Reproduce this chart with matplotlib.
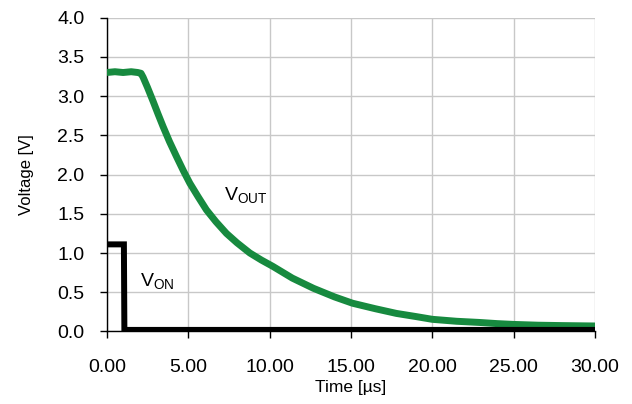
import matplotlib
matplotlib.use("Agg")
import matplotlib.pyplot as plt

plt.rcParams['font.family'] = ['Liberation Sans', 'DejaVu Sans']

# V_OUT readings (time in µs, voltage in V)
t_out = [0.0, 0.5, 1.0, 1.5, 1.9, 2.1, 2.23, 2.5, 2.85, 3.15, 3.46, 3.85, 4.28,
         4.7, 5.1, 5.6, 6.12, 6.7, 7.35, 8.0, 8.79, 9.5, 10.2, 11.4, 12.7,
         14.0, 15.1, 16.5, 17.8, 19.0, 20.0, 21.5, 22.9, 24.0, 25.0, 26.5,
         28.0, 30.0]
v_out = [3.30, 3.31, 3.30, 3.31, 3.30, 3.29, 3.24, 3.11, 2.93, 2.77, 2.61, 2.42,
         2.23, 2.05, 1.89, 1.72, 1.55, 1.40, 1.25, 1.13, 1.00, 0.91, 0.83, 0.68,
         0.55, 0.44, 0.36, 0.29, 0.23, 0.19, 0.155, 0.13, 0.115, 0.10, 0.09,
         0.08, 0.075, 0.07]

# V_ON readings
t_on = [0.0, 1.05, 1.08, 30.0]
v_on = [1.11, 1.11, 0.02, 0.02]

x_ticks = [0, 5, 10, 15, 20, 25, 30]
x_labels = ["0.00", "5.00", "10.00", "15.00", "20.00", "25.00", "30.00"]
y_ticks = [0.0, 0.5, 1.0, 1.5, 2.0, 2.5, 3.0, 3.5, 4.0]
y_labels = ["0.0", "0.5", "1.0", "1.5", "2.0", "2.5", "3.0", "3.5", "4.0"]

fig = plt.figure(figsize=(6.32, 4.04), dpi=100)
ax = fig.add_axes([0.169, 0.1795, 0.7725, 0.777])

ax.plot(t_out, v_out, color='#178a3f', lw=5.0, solid_joinstyle='round',
        solid_capstyle='butt', zorder=3)
ax.plot(t_on, v_on, color='black', lw=4.3, solid_joinstyle='miter',
        solid_capstyle='butt', zorder=4)

ax.set_xlim(0, 30)
ax.set_ylim(0, 4.0)
ax.set_xticks(x_ticks)
ax.set_xticklabels(x_labels)
ax.set_yticks(y_ticks)
ax.set_yticklabels(y_labels)
ax.grid(True, color='#c8c8c8', lw=1.0)
ax.set_axisbelow(True)
for s in ['top', 'right']:
    ax.spines[s].set_visible(False)
for s in ['left', 'bottom']:
    ax.spines[s].set_color('black')
    ax.spines[s].set_linewidth(1.0)
ax.tick_params(axis='both', direction='out', length=5, width=1, labelsize=14, colors='black')
ax.tick_params(axis='x', pad=15)
ax.tick_params(axis='y', pad=11)

ax.set_xlabel("Time [µs]", fontsize=12.5, labelpad=3)
ax.set_ylabel("Voltage [V]", fontsize=12, labelpad=17)

ax.text(7.2, 1.73, r"V$_{\mathregular{OUT}}$", fontsize=14, ha='left', va='center')
ax.text(2.05, 0.63, r"V$_{\mathregular{ON}}$", fontsize=14, ha='left', va='center')

fig.savefig("out.png", dpi=100)
